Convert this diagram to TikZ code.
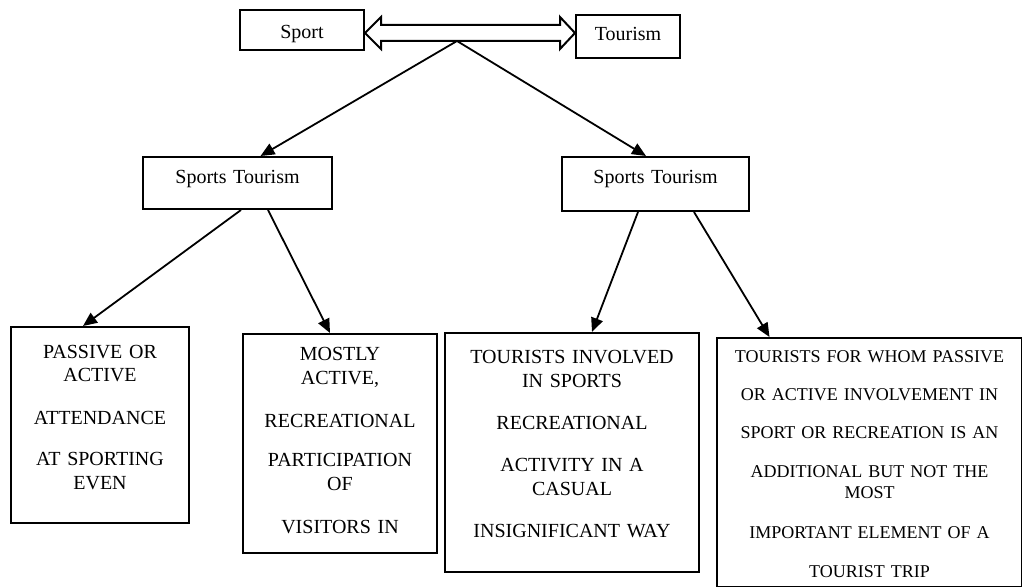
\documentclass[tikz,border=0pt]{standalone}
\usepackage{fontspec}
\setmainfont{Liberation Serif}
\usetikzlibrary{arrows.meta,positioning,calc}

\begin{document}
\begin{tikzpicture}[
  x=0.5pt, y=-0.5pt,
  box/.style={rectangle, draw, line width=1pt, inner sep=0pt, align=center,
              anchor=north west, font=\fontsize{10}{12}\selectfont},
  smallbox/.style={box, font=\fontsize{9}{10.5}\selectfont},
  arrow/.style={-{Triangle[length=7pt, width=6pt]}, line width=0.9pt},
  hollow/.style={line width=1pt, line join=miter}
]
  \useasboundingbox (0,0) rectangle (1022,587);

  % ── TOP: Sport <=> Tourism ──
  \node[box, minimum width=62pt, text height=14.5pt, text depth=5.5pt] (sport) at (239,9) {Sport};
  \node[box, minimum width=52pt, text height=13pt, text depth=8.5pt] (tourism) at (575,14) {Tourism};

  \coordinate (axis) at (457,33);
  \coordinate (hub) at (457,41);

  \draw[hollow] (sport.east |- axis) -- ++(16,-16) -- ++(0,8)
        -- ($(tourism.west |- axis)+(-15,-8)$) -- ++(0,-8) -- (tourism.west |- axis)
        -- ++(-15,16) -- ++(0,-8) -- ($(sport.east |- axis)+(16,8)$) -- ++(0,8) -- cycle;

  % ── MIDDLE ──
  \node[box, text width=94.5pt, text height=13.5pt, text depth=12.5pt] (stleft) at (142,156) {Sports Tourism};
  \node[box, text width=93.5pt, text height=13.5pt, text depth=13.5pt] (stright) at (561,156) {Sports Tourism};

  % ── BOTTOM ──
  \node[box, text width=89pt, text height=15.5pt, text depth=82.5pt] (passive) at (10,326) {
    PASSIVE OR\\ACTIVE\\[9pt]
    ATTENDANCE\\[9pt]
    AT SPORTING\\EVEN
  };
  \node[box, text width=97pt, text height=13.5pt, text depth=96pt] (mostly) at (242,333) {
    MOSTLY\\ACTIVE,\\[9pt]
    RECREATIONAL\\[8pt]
    PARTICIPATION\\OF\\[9pt]
    VISITORS IN
  };
  \node[box, text width=127pt, text height=15.5pt, text depth=104pt] (involved) at (444,332) {
    TOURISTS INVOLVED\\IN SPORTS\\[9pt]
    RECREATIONAL\\[9pt]
    ACTIVITY IN A\\CASUAL\\[9pt]
    INSIGNIFICANT WAY
  };
  \node[smallbox, text width=152.5pt, text height=12.5pt, text depth=112pt] (whom) at (716,337) {
    TOURISTS FOR WHOM PASSIVE\\[8.5pt]
    OR ACTIVE INVOLVEMENT IN\\[8.5pt]
    SPORT OR RECREATION IS AN\\[9pt]
    ADDITIONAL BUT NOT THE\\MOST\\[9.5pt]
    IMPORTANT ELEMENT OF A\\[9pt]
    TOURIST TRIP
  };

  % Arrows
  \draw[arrow] (hub) -- ([xshift=11.5pt]stleft.north);
  \draw[arrow] (hub) -- ([xshift=-4.75pt]stright.north);
  \draw[arrow] ([xshift=1.75pt]stleft.south) -- ([xshift=-8.5pt]passive.north);
  \draw[arrow] ([xshift=15.25pt]stleft.south) -- ([xshift=-5pt]mostly.north);
  \draw[arrow] ([xshift=-8.75pt]stright.south) -- ([xshift=10pt]involved.north);
  \draw[arrow] ([xshift=19.25pt]stright.south) -- ([xshift=-50pt]whom.north);
\end{tikzpicture}
\end{document}
